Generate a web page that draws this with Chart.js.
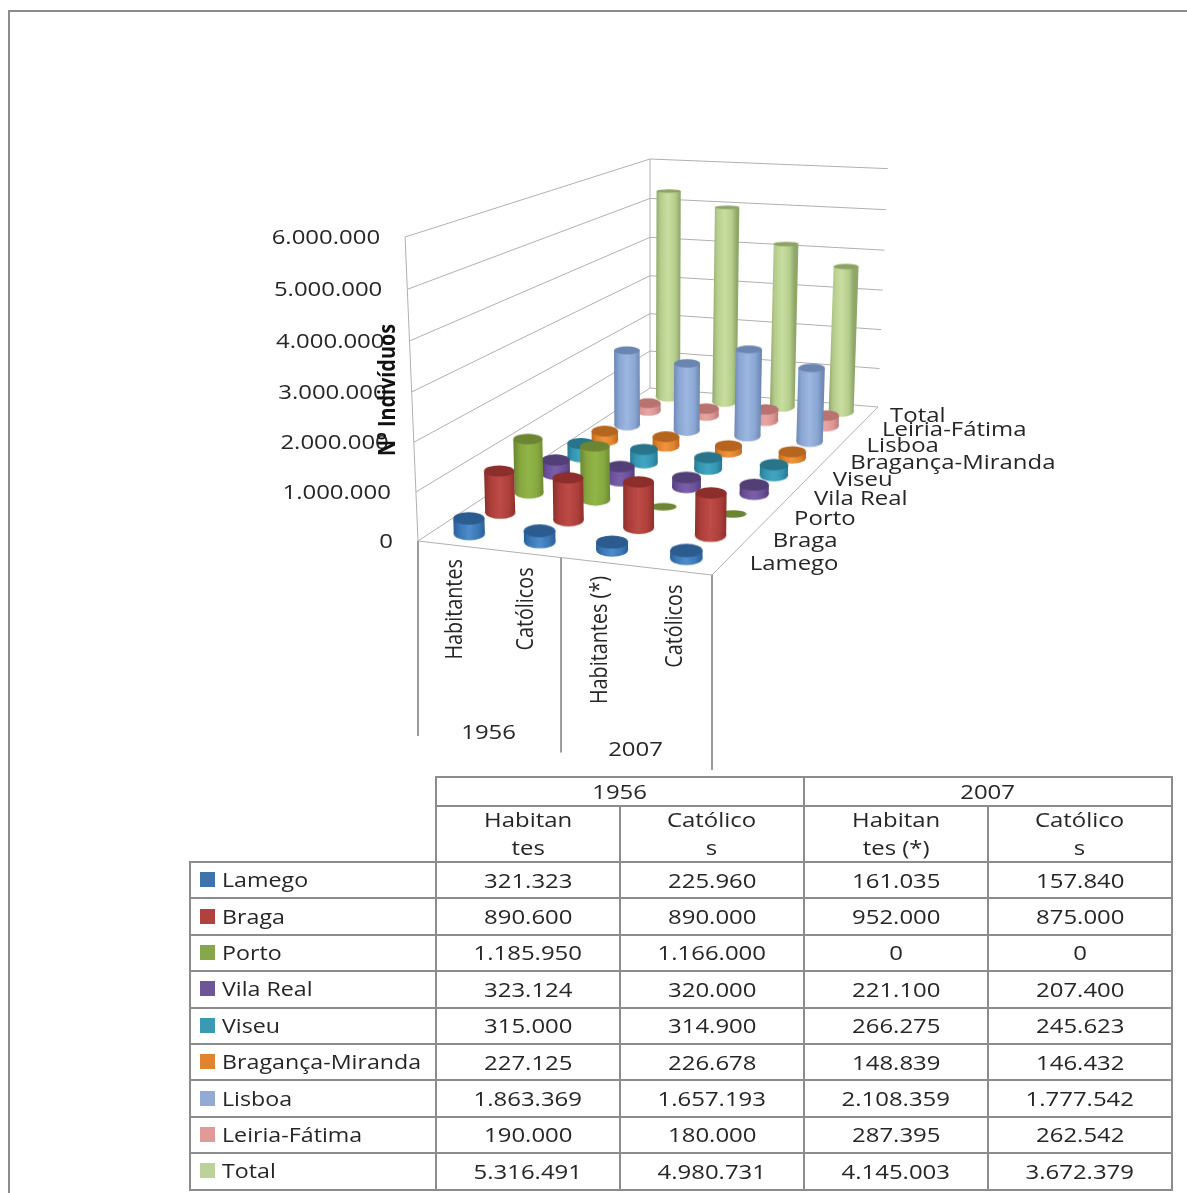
<!DOCTYPE html>
<html>
<head>
<meta charset="utf-8">
<script src="https://cdn.jsdelivr.net/npm/chart.js@4"></script>
<style>
html, body { margin: 0; padding: 0; background: #fff; overflow: hidden; }
#frame { position: absolute; left: 8px; top: 10px; width: 1300px; height: 1300px; border-left: 2px solid #8c8c8c; border-top: 2px solid #8c8c8c; }
#chart { position: absolute; left: 0; top: 0; }
#dataTable { position: absolute; left: 189px; top: 776px; width: 982px; height: 413px; table-layout: fixed; border-collapse: collapse; font: 18px "Open Sans", sans-serif; color: #262626; }
#dataTable td { border: 2px solid #8c8c8c; padding: 0; text-align: center; white-space: pre-line; line-height: 25px; }
#dataTable td.corner { border: none; }
#dataTable td.name { text-align: left; }
#dataTable span.t { display: inline-block; transform: scale(1.33, 1.1); }
#dataTable td.name span.t { transform: scale(1.29, 1.1); transform-origin: left center; position: absolute; margin-left: 31px; margin-top: -13px; white-space: nowrap; }
#dataTable i { position: absolute; width: 15px; height: 15px; margin-left: 9px; margin-top: -8px; }
</style>
</head>
<body>
<div id="frame"></div>
<canvas id="chart" width="1187" height="1193"></canvas>
<table id="dataTable"></table>
<script>
let years = ['1956', '2007'];
let categories = ['Habitantes', 'Católicos', 'Habitantes (*)', 'Católicos'];
let tableHeads = ['Habitan\ntes', 'Católico\ns', 'Habitan\ntes (*)', 'Católico\ns'];
let seriesNames = ['Lamego', 'Braga', 'Porto', 'Vila Real', 'Viseu', 'Bragança-Miranda', 'Lisboa', 'Leiria-Fátima', 'Total'];
let tickLabels = ['0', '1.000.000', '2.000.000', '3.000.000', '4.000.000', '5.000.000', '6.000.000'];
let axisTitle = 'Nº Indivíduos';

let lamego = [321323, 225960, 161035, 157840];
let braga = [890600, 890000, 952000, 875000];
let porto = [1185950, 1166000, 0, 0];
let vilaReal = [323124, 320000, 221100, 207400];
let viseu = [315000, 314900, 266275, 245623];
let braganca = [227125, 226678, 148839, 146432];
let lisboa = [1863369, 1657193, 2108359, 1777542];
let leiria = [190000, 180000, 287395, 262542];
let total = [5316491, 4980731, 4145003, 3672379];
let seriesValues = [lamego, braga, porto, vilaReal, viseu, braganca, lisboa, leiria, total];

// edge, mid, light, cap
let seriesColors = [
    ['#2a5f97', '#3c78b6', '#4f8ccb', '#2c5b90'],
    ['#8f302c', '#ad3f3b', '#bd4b46', '#8c2e2b'],
    ['#6d8a34', '#86a83f', '#92b548', '#6b8532'],
    ['#553f7c', '#6b519a', '#7a60a9', '#523f75'],
    ['#277a92', '#3596b2', '#42a6c2', '#28748a'],
    ['#bb6a20', '#e0832c', '#ef9440', '#b5651e'],
    ['#6d89b4', '#8aa6d2', '#9cb7e0', '#6a86b0'],
    ['#bd7a78', '#dc9593', '#e8a6a4', '#b87370'],
    ['#8fa86a', '#b5cd8c', '#c8dea0', '#8da366']
];
let swatches = ['#3f74ab', '#b0413d', '#87a84a', '#6d5596', '#3a9ab4', '#e0842e', '#92abd6', '#e09a98', '#bdd296'];

const W = 1187, H = 1193, MAX_VALUE = 6000000;

// floor corners of the 3d box, front-left, front-right, back-right, back-left
const FL = [418, 541], FR = [712, 575], BR = [878, 407], BL = [650, 388];
const VANISH = [650, 6000], WALL_HEIGHT = 304;

let dx1 = FR[0] - BR[0], dx2 = BL[0] - BR[0], sx = FL[0] - FR[0] + BR[0] - BL[0];
let dy1 = FR[1] - BR[1], dy2 = BL[1] - BR[1], sy = FL[1] - FR[1] + BR[1] - BL[1];
let det = dx1 * dy2 - dx2 * dy1;
let hg = (sx * dy2 - dx2 * sy) / det, hh = (dx1 * sy - sx * dy1) / det;
let ha = FR[0] - FL[0] + hg * FR[0], hb = BL[0] - FL[0] + hh * BL[0];
let hd = FR[1] - FL[1] + hg * FR[1], he = BL[1] - FL[1] + hh * BL[1];

function depth(u, v) {
    return hg * u + hh * v + 1;
}

// u along categories, v along series, value up the wall
function project(u, v, value) {
    let den = depth(u, v);
    let x = (ha * u + hb * v + FL[0]) / den;
    let y = (hd * u + he * v + FL[1]) / den;
    let f = value / MAX_VALUE;
    let rise = WALL_HEIGHT * f / (1 + 0.04 * (1 - f)) / den;
    return { x: x + (x - VANISH[0]) / (VANISH[1] - y) * rise, y: y - rise };
}

function makeGradient(ctx, x0, w, c) {
    let g = ctx.createLinearGradient(x0, 0, x0 + w, 0);
    g.addColorStop(0, c[0]);
    g.addColorStop(0.2, c[1]);
    g.addColorStop(0.5, c[2]);
    g.addColorStop(0.8, c[1]);
    g.addColorStop(1, c[0]);
    return g;
}

function ellipse(w, h, fill) {
    let cv = document.createElement('canvas');
    cv.width = Math.ceil(w) + 2;
    cv.height = Math.ceil(h) + 2;
    let c = cv.getContext('2d');
    let g = fill;
    if (Array.isArray(fill)) g = makeGradient(c, 1, w, fill);
    c.fillStyle = g;
    c.beginPath();
    c.ellipse(cv.width / 2, cv.height / 2, w / 2, h / 2, 0, 0, Math.PI * 2);
    c.fill();
    return cv;
}

function buildDatasets(ctx) {
    let sets = [];
    // first dataset is on top, so front rows go first
    seriesValues.forEach(function (vals, s) {
        let c = seriesColors[s];
        let v = (s + 0.5) / seriesValues.length;
        vals.forEach(function (val, i) {
            let u = (i + 0.5) / vals.length;
            let w = 31.5 / depth(u, v);
            let base = project(u, v, 0), top = project(u, v, val);
            let ratio = Math.max(0.14, 0.42 - 0.055 * val / 1000000);
            let topCap, radii = [5, 5];
            if (val === 0) {
                topCap = ellipse(w * 0.88, w * 0.25, c[3]);
                radii = [0, 5];
            } else {
                topCap = ellipse(w, w * ratio, c[3]);
            }
            sets.push({
                data: [base, top],
                borderColor: makeGradient(ctx, base.x - w / 2, w, c),
                borderWidth: w,
                borderCapStyle: 'butt',
                tension: 0.0001, // keeps chart.js off its fast path, that one bends thick lines
                pointRadius: radii,
                pointStyle: [ellipse(w, w * 0.42, c), topCap],
                clip: false
            });
        });
    });
    // walls and floor behind the columns
    tickLabels.forEach(function (t, n) {
        let val = n * MAX_VALUE / (tickLabels.length - 1);
        sets.push(gridLine([project(0, 0, val), project(0, 1, val), project(1, 1, val)]));
    });
    sets.push(gridLine([project(0, 0, 0), project(0, 0, MAX_VALUE)]));
    sets.push(gridLine([project(0, 1, 0), project(0, 1, MAX_VALUE)]));
    sets.push(gridLine([project(0, 0, 0), project(1, 0, 0), project(1, 1, 0)]));
    // year separators under the floor
    [0, 0.5, 1].forEach(function (u) {
        let p = project(u, 0, 0);
        sets.push({ data: [p, { x: p.x, y: p.y + 195 }], borderColor: '#9a9a9a', borderWidth: 2, pointRadius: 0 });
    });
    return sets;
}

function gridLine(points) {
    return { data: points, borderColor: '#b0b0b0', borderWidth: 1, pointRadius: 0 };
}

const STRETCH_X = 1.33, STRETCH_Y = 1.1;

function label(ctx, text, x, y, align, rotate, bold) {
    ctx.save();
    ctx.translate(x, y);
    ctx.scale(STRETCH_X, STRETCH_Y);
    if (rotate) ctx.rotate(-Math.PI / 2);
    ctx.font = (bold ? 'bold ' : '') + '18px "Open Sans", sans-serif';
    ctx.fillStyle = bold ? '#111' : '#262626';
    ctx.textAlign = align;
    ctx.textBaseline = 'middle';
    ctx.fillText(text, 0, 0);
    ctx.restore();
}

let labelsPlugin = {
    id: 'labels3d',
    afterDraw: function (chart) {
        let ctx = chart.ctx;
        // value axis
        tickLabels.forEach(function (t, n) {
            let p = project(0, 0, n * MAX_VALUE / (tickLabels.length - 1));
            label(ctx, t, p.x - 25, p.y + 1, 'right');
        });
        label(ctx, axisTitle, 388, 390, 'center', true, true);
        // category axis
        categories.forEach(function (c, i) {
            let p = project((i + 0.5) / categories.length, 0, 0);
            label(ctx, c, p.x + 2, p.y + 14, 'right', true);
        });
        years.forEach(function (y, i) {
            let p = project((i + 0.5) / years.length, 0, 0);
            label(ctx, y, p.x, p.y + 184, 'center');
        });
        // depth axis
        seriesNames.forEach(function (n, s) {
            let p = project(1, (s + 0.5) / seriesNames.length, 0);
            let gap = s === seriesNames.length - 1 ? 19 : 25.5;
            label(ctx, n, p.x + gap, p.y + 2, 'left');
        });
    }
};

function buildTable() {
    let fmt = function (n) { return String(n).replace(/\B(?=(\d{3})+$)/g, '.'); };
    let wrap = function (t) { return '<span class="t">' + t + '</span>'; };
    let html = '<colgroup><col style="width:246px">' + '<col style="width:184px">'.repeat(4) + '</colgroup>';
    html += '<tr style="height:29px"><td class="corner" rowspan="2"></td>';
    years.forEach(function (y) { html += '<td colspan="2">' + wrap(y) + '</td>'; });
    html += '</tr><tr style="height:56px">';
    tableHeads.forEach(function (h) { html += '<td>' + wrap(h) + '</td>'; });
    html += '</tr>';
    seriesNames.forEach(function (n, s) {
        html += '<tr style="height:36.4px"><td class="name"><i style="background:' + swatches[s] + '"></i>' + wrap(n) + '</td>';
        seriesValues[s].forEach(function (v) { html += '<td>' + wrap(fmt(v)) + '</td>'; });
        html += '</tr>';
    });
    document.getElementById('dataTable').innerHTML = html;
}
buildTable();

let canvas = document.getElementById('chart');
let ctx = canvas.getContext('2d');
new Chart(ctx, {
    type: 'line',
    data: { datasets: buildDatasets(ctx) },
    options: {
        responsive: false,
        animation: false,
        devicePixelRatio: 1,
        layout: { padding: 0, autoPadding: false },
        parsing: { xAxisKey: 'x', yAxisKey: 'y' },
        plugins: { legend: { display: false }, tooltip: { enabled: false } },
        scales: {
            x: { type: 'linear', min: 0, max: W, display: false },
            y: { type: 'linear', min: 0, max: H, reverse: true, display: false }
        }
    },
    plugins: [labelsPlugin]
});
</script>
</body>
</html>
